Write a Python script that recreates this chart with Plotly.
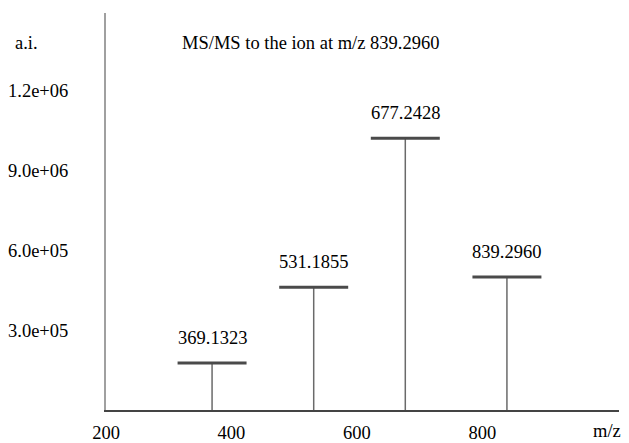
import plotly.graph_objects as go

# Data
peak_mz = [369.1323, 531.1855, 677.2428, 839.2960]
peak_intensity = [176000, 461000, 1020000, 499000]
peak_labels = ["369.1323", "531.1855", "677.2428", "839.2960"]

x_tickvals = [200, 400, 600, 800]
x_ticktext = ["200", "400", "600", "800"]
x_unit_text = "m/z"
y_tickvals = [300000, 600000, 900000, 1200000]
y_ticktext = ["3.0e+05", "6.0e+05", "9.0e+06", "1.2e+06"]

title_text = "MS/MS to the ion at m/z 839.2960"
y_unit_text = "a.i."

FONT = "Liberation Serif, Times New Roman, serif"
FS = 18.5
bar_half = 55

fig = go.Figure()

# sticks
sx, sy = [], []
for m, i in zip(peak_mz, peak_intensity):
    sx += [m, m, None]
    sy += [0, i, None]
fig.add_trace(go.Scatter(x=sx, y=sy, mode="lines",
                         line=dict(color="#6a6a6a", width=1.5),
                         hoverinfo="skip", showlegend=False))

# horizontal caps
bx, by = [], []
for m, i in zip(peak_mz, peak_intensity):
    bx += [m - bar_half, m + bar_half, None]
    by += [i, i, None]
fig.add_trace(go.Scatter(x=bx, y=by, mode="lines",
                         line=dict(color="#4a4a4a", width=3),
                         hoverinfo="skip", showlegend=False))

for m, i, t in zip(peak_mz, peak_intensity, peak_labels):
    fig.add_annotation(x=m, y=i, text=t, showarrow=False,
                       yanchor="bottom", yshift=13,
                       font=dict(family=FONT, size=FS, color="black"))

fig.add_annotation(xref="paper", yref="paper", x=0.144, y=0.924,
                   xanchor="left", yanchor="middle", text=title_text,
                   showarrow=False, font=dict(family=FONT, size=FS, color="black"))
fig.add_annotation(xref="paper", yref="paper", x=-0.181, y=0.924,
                   xanchor="left", yanchor="middle", text=y_unit_text,
                   showarrow=False, font=dict(family=FONT, size=FS, color="black"))
fig.add_annotation(xref="paper", yref="paper", x=1.0, y=0, yshift=-21, xshift=3,
                   xanchor="right", yanchor="middle", text=x_unit_text,
                   borderpad=0,
                   showarrow=False, font=dict(family=FONT, size=FS, color="black"))

# page body has an 8px default margin, so the figure is 8px smaller
fig.update_layout(
    width=621, height=435,
    margin=dict(l=98, r=10, t=5, b=33, autoexpand=False),
    plot_bgcolor="white", paper_bgcolor="white",
    font=dict(family=FONT, size=FS, color="black"),
    showlegend=False,
)
fig.update_xaxes(range=[200, 1018], tickvals=x_tickvals, ticktext=x_ticktext,
                 showgrid=False, zeroline=False, showline=True,
                 linecolor="#444444", linewidth=2, ticks="",
                 ticklabelstandoff=5, automargin=False)
fig.update_yaxes(range=[0, 1490000], tickvals=y_tickvals, ticktext=y_ticktext,
                 showgrid=False, zeroline=False, showline=True,
                 linecolor="#a0a0a0", linewidth=2, ticks="",
                 ticklabelstandoff=32, automargin=False)

fig.write_html("out.html")
